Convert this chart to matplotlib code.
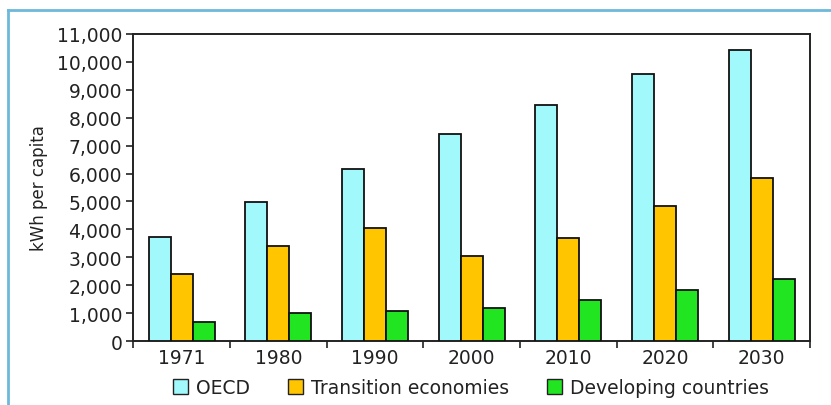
import matplotlib
matplotlib.use("Agg")
import matplotlib.pyplot as plt
import numpy as np
from matplotlib.patches import Rectangle
from matplotlib.lines import Line2D
from matplotlib.ticker import FuncFormatter, FixedLocator

years = ["1971", "1980", "1990", "2000", "2010", "2020", "2030"]
oecd = [3720, 4980, 6150, 7400, 8470, 9550, 10420]
transition = [2400, 3420, 4050, 3030, 3700, 4830, 5850]
developing = [690, 990, 1090, 1180, 1480, 1830, 2210]

series = [
    ("OECD", oecd, "#A2F9FB"),
    ("Transition economies", transition, "#FFC600"),
    ("Developing countries", developing, "#22E522"),
]

plt.rcParams["font.family"] = ["DejaVu Sans"]

fig = plt.figure(figsize=(8.31, 4.06), dpi=100)
ax = fig.add_axes([0.1604, 0.1576, 0.8143, 0.7562])

x = np.arange(len(years))
width = 0.227
for i, (name, vals, color) in enumerate(series):
    ax.bar(x + (i - 1) * width, vals, width, color=color, edgecolor="#111111",
           linewidth=1.3, label=name, zorder=3)

ax.set_xlim(-0.5, len(years) - 0.5)
ax.set_ylim(0, 11000)
ax.set_yticks(np.arange(0, 11001, 1000))
ax.yaxis.set_major_formatter(FuncFormatter(lambda v, p: f"{int(v):,}"))

ax.set_xticks(x)
ax.set_xticklabels(years)
ax.xaxis.set_minor_locator(FixedLocator(np.arange(-0.5, len(years), 1.0)))
ax.tick_params(axis="x", which="major", length=0, pad=5, labelsize=13.5,
               colors="#222222")
ax.tick_params(axis="x", which="minor", length=5, width=1.2, direction="out",
               color="#222222")
ax.tick_params(axis="y", which="major", length=5, width=1.2, direction="out",
               labelsize=13.5, pad=3, colors="#222222")

for s in ax.spines.values():
    s.set_linewidth(1.4)
    s.set_color("#222222")

ax.set_ylabel("kWh per capita", fontsize=12, color="#222222", labelpad=6)

handles = [Rectangle((0, 0), 1, 1, facecolor=c, edgecolor="#222222", linewidth=1.0)
           for _, _, c in series]
fig.legend(handles, [n for n, _, _ in series], loc="center",
           bbox_to_anchor=(0.567, 0.043), ncol=3, frameon=False,
           fontsize=13.5, handlelength=0.8, handleheight=0.8,
           handletextpad=0.45, columnspacing=2.0, labelcolor="#222222")

# light blue panel border
fig.add_artist(Line2D([8 / 831, 8 / 831], [0, 1 - 11 / 406],
                      transform=fig.transFigure, color="#6CB9DA", linewidth=2.0))
fig.add_artist(Line2D([8 / 831, 1], [1 - 11 / 406, 1 - 11 / 406],
                      transform=fig.transFigure, color="#6CB9DA", linewidth=2.0))

fig.savefig("out.png", dpi=100)
